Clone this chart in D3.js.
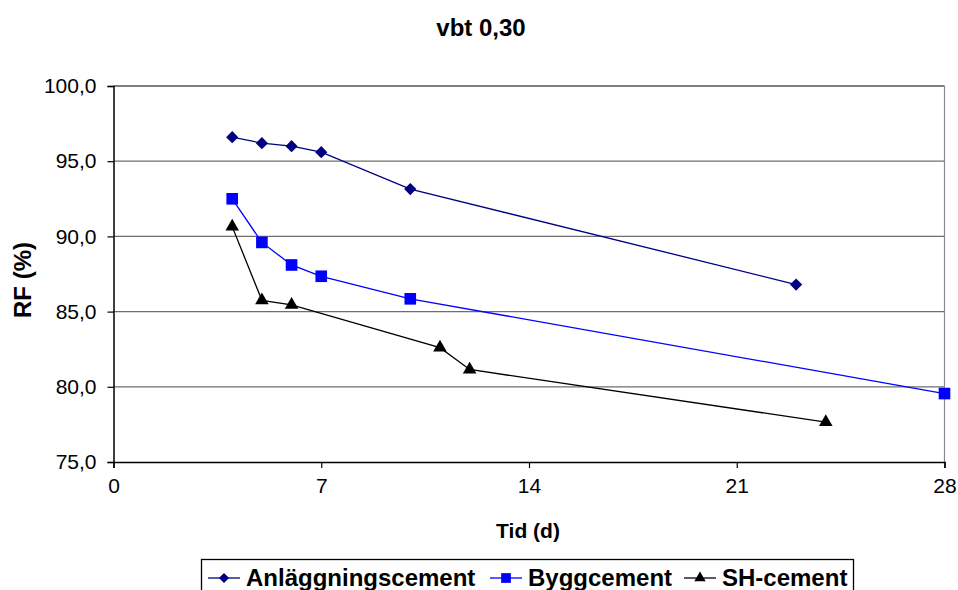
<!DOCTYPE html>
<html><head><meta charset="utf-8">
<script src="https://cdn.jsdelivr.net/npm/d3@7"></script>
<style>body{margin:0;background:#fff}svg{display:block;font-family:"Liberation Sans",Arial,sans-serif}</style>
</head><body><svg id="c" width="958" height="590"></svg>
<script>
const title = "vbt 0,30";
const xLabel = "Tid (d)";
const yLabel = "RF (%)";
const xTicks = [0, 7, 14, 21, 28];
const yTicks = [75, 80, 85, 90, 95, 100];
const seriesNames = ["Anläggningscement", "Byggcement", "SH-cement"];
const anlDays = [4, 5, 6, 7, 10, 23];
const anlRF = [96.6, 96.2, 96.0, 95.6, 93.15, 86.8];
const byggDays = [4, 5, 6, 7, 10, 28];
const byggRF = [92.5, 89.6, 88.1, 87.35, 85.85, 79.55];
const shDays = [4, 5, 6, 11, 12, 24];
const shRF = [90.65, 85.75, 85.45, 82.6, 81.15, 77.65];

const series = [
  {name: seriesNames[0], x: anlDays, y: anlRF, color: "#000080", sym: d3.symbolDiamond2, size: 95},
  {name: seriesNames[1], x: byggDays, y: byggRF, color: "#0000ff", sym: d3.symbolSquare, size: 135},
  {name: seriesNames[2], x: shDays, y: shRF, color: "#000000", sym: d3.symbolTriangle, size: 80}
];

const svg = d3.select("#c");
const L = 113.5, R = 944.5, T = 86, B = 462;
const x = d3.scaleLinear().domain([0, 28]).range([L, R]);
const y = d3.scaleLinear().domain([75, 100]).range([B, T]);

svg.append("text").attr("x", 481).attr("y", 36).attr("text-anchor", "middle")
  .attr("font-weight", "bold").attr("font-size", 24).text(title);

// gridlines
svg.append("g").selectAll("line").data(yTicks.filter(v => v > 75)).join("line")
  .attr("x1", L).attr("x2", R).attr("y1", d => y(d)).attr("y2", d => y(d))
  .attr("stroke", d => d === 100 ? "#000" : "#6e6e6e").attr("stroke-width", 1.2);
svg.append("line").attr("x1", R).attr("x2", R).attr("y1", T).attr("y2", B)
  .attr("stroke", "#8a8a8a").attr("stroke-width", 1.2);

const yAxis = svg.append("g").attr("transform", `translate(${L},0)`)
  .call(d3.axisLeft(y).tickValues(yTicks).tickSize(6).tickPadding(11)
    .tickFormat(d => d3.format(".1f")(d).replace(".", ",")));
const xAxis = svg.append("g").attr("transform", `translate(0,${B})`)
  .call(d3.axisBottom(x).tickValues(xTicks).tickSize(6).tickPadding(10));
[yAxis, xAxis].forEach(a => {
  a.attr("font-size", 21).attr("font-family", '"Liberation Sans",Arial,sans-serif');
  a.select(".domain").attr("stroke", "#000").attr("stroke-width", 1.5);
  a.selectAll(".tick line").attr("stroke", "#000").attr("stroke-width", 1.2);
  a.selectAll("text").attr("fill", "#000");
});

svg.append("text").attr("x", 528).attr("y", 538).attr("text-anchor", "middle")
  .attr("font-weight", "bold").attr("font-size", 21).text(xLabel);
svg.append("text").attr("transform", "translate(31,280) rotate(-90)").attr("text-anchor", "middle")
  .attr("font-weight", "bold").attr("font-size", 24).text(yLabel);

const line = d3.line().x(d => x(d[0])).y(d => y(d[1]));
series.forEach(s => {
  const pts = s.x.map((v, i) => [v, s.y[i]]);
  svg.append("path").datum(pts).attr("d", line).attr("fill", "none")
    .attr("stroke", s.color).attr("stroke-width", 1.3);
  svg.append("g").selectAll("path").data(pts).join("path")
    .attr("transform", d => `translate(${x(d[0])},${y(d[1])})`)
    .attr("d", d3.symbol().type(s.sym).size(s.size)).attr("fill", s.color);
});

// legend
svg.append("rect").attr("x", 201.5).attr("y", 559.5).attr("width", 652).attr("height", 40)
  .attr("fill", "#fff").attr("stroke", "#000").attr("stroke-width", 1.3);
const legX = [208, 490, 684];
series.forEach((s, i) => {
  const g = svg.append("g").attr("transform", `translate(${legX[i]},578)`);
  g.append("line").attr("x1", 0).attr("x2", 32).attr("stroke", s.color).attr("stroke-width", 1.3);
  g.append("path").attr("transform", "translate(16,0)")
    .attr("d", d3.symbol().type(s.sym).size(s.size * 0.7)).attr("fill", s.color);
  g.append("text").attr("x", 38).attr("y", 8).attr("font-weight", "bold").attr("font-size", 24).text(s.name);
});
</script></body></html>
